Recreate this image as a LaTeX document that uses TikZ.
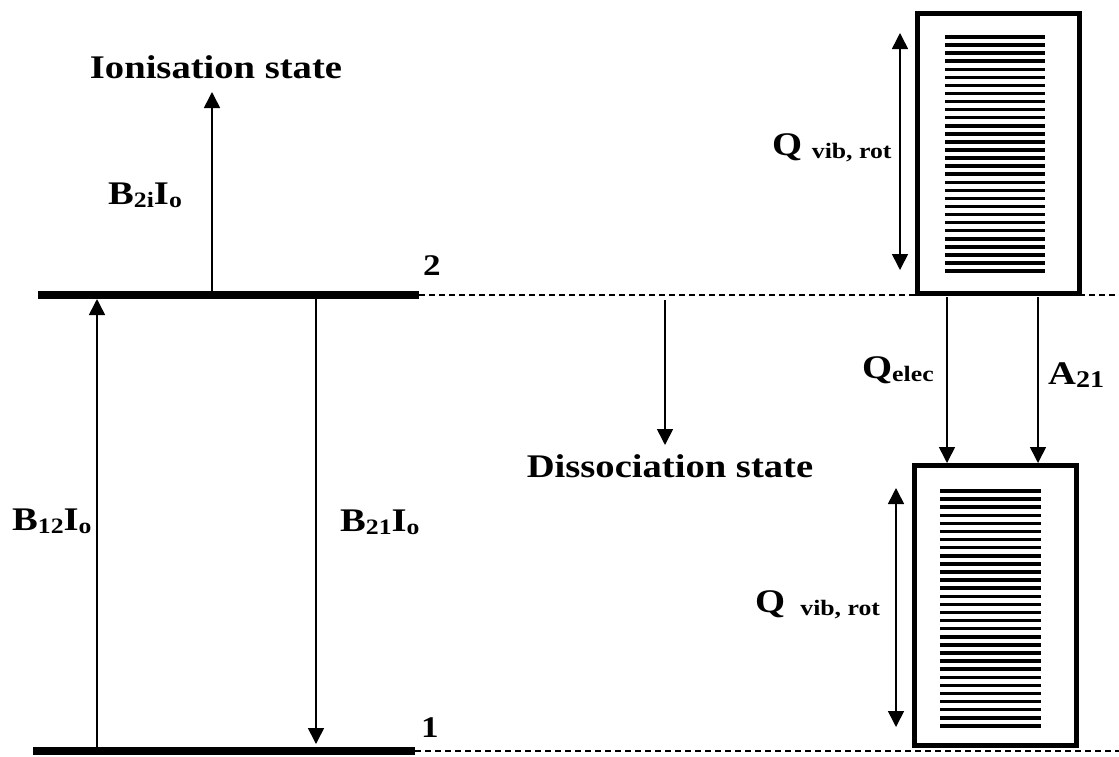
\documentclass[tikz,border=0pt]{standalone}
\usepackage{fontspec}
\setmainfont{Liberation Serif}[FakeStretch=1.17]
\usetikzlibrary{arrows.meta,positioning,calc}
\newcommand{\lowsub}[2][22]{\raisebox{-3pt}{\fontsize{#1}{#1}\selectfont #2}}
\tikzset{
  lbl/.style={font=\fontsize{33}{36}\selectfont\bfseries, inner sep=0pt},
  num/.style={font=\fontsize{30}{32}\selectfont\bfseries, inner sep=0pt},
  lvl/.style={line width=8pt},
  arr/.style={line width=1.6pt, -{Triangle[width=16pt,length=16pt]}},
  dbl/.style={line width=1.6pt, {Triangle[width=16pt,length=16pt]}-{Triangle[width=16pt,length=16pt]}},
  guide/.style={line width=1.2pt, dash pattern=on 6pt off 4pt},
  bin/.style={draw, line width=5pt, fill=white, minimum width=162pt, minimum height=280pt, inner sep=0pt},
  rung/.style={line width=3.5pt}
}

\begin{document}
\begin{tikzpicture}[x=1pt,y=-1pt]
  \useasboundingbox (0,0) rectangle (1119,756);

  % energy levels
  \coordinate (l2w) at (38,295);  \coordinate (l2e) at (419,295);
  \coordinate (l1w) at (33,751);  \coordinate (l1e) at (415,751);
  \coordinate (r2) at (1119,295); \coordinate (r1) at (1119,751);
  \draw[guide] (l2e) -- (r2);
  \draw[guide] (l1e) -- (r1);
  \draw[lvl] (l2w) -- (l2e);
  \draw[lvl] (l1w) -- (l1e);
  \node[num, anchor=base] (n2) at (432,275) {2};
  \node[num, anchor=base] (n1) at (430,737) {1};

  % vibrational/rotational manifolds
  \node[bin] (ubox) at (998.5,153.5) {};
  \node[bin] (lbox) at (995.5,605.5) {};
  \foreach \k in {0,...,29} {
    \draw[rung] (945,{37+\k*8.07}) -- (1045,{37+\k*8.07});
    \draw[rung] (940,{491+\k*8.1}) -- (1041,{491+\k*8.1});
  }

  % transitions
  \coordinate (up1) at (97,747);   \coordinate (up2) at (97,299);
  \coordinate (dn1) at (316,299);  \coordinate (dn2) at (316,744);
  \coordinate (io1) at (212,291);  \coordinate (io2) at (212,92);
  \coordinate (ds1) at (665,300);  \coordinate (ds2) at (665,445);
  \coordinate (qe1) at (947,297);  \coordinate (qe2) at (947,463);
  \coordinate (a1) at (1038,297);  \coordinate (a2) at (1038,463);
  \coordinate (uv1) at (900,33);   \coordinate (uv2) at (900,270);
  \coordinate (lv1) at (896,488);  \coordinate (lv2) at (896,727);
  \draw[arr] (up1) -- (up2);
  \draw[arr] (dn1) -- (dn2);
  \draw[arr] (io1) -- (io2);
  \draw[arr] (ds1) -- (ds2);
  \draw[arr] (qe1) -- (qe2);
  \draw[arr] (a1) -- (a2);
  \draw[dbl] (uv1) -- (uv2);
  \draw[dbl] (lv1) -- (lv2);

  % labels
  \node[lbl, anchor=base] (ion) at (216,78) {Ionisation state};
  \node[lbl, anchor=base west] (b2i) at (108,204) {B\lowsub{2i}I\lowsub{o}};
  \node[lbl, anchor=base west] (b12) at (12,530) {B\lowsub{12}I\lowsub{o}};
  \node[lbl, anchor=base west] (b21) at (340,531) {B\lowsub{21}I\lowsub{o}};
  \node[lbl, anchor=base] (dis) at (670,477) {Dissociation state};
  \node[lbl, anchor=base west] (qu) at (772,155) {Q \lowsub{vib, rot}};
  \node[lbl, anchor=base west] (ql) at (755,612) {Q\ \,\lowsub{vib, rot}};
  \node[lbl, anchor=base west] (qel) at (862,378) {Q\lowsub{elec}};
  \node[lbl, anchor=base west] (a21) at (1048,384) {A\lowsub[24]{21}};
\end{tikzpicture}
\end{document}
